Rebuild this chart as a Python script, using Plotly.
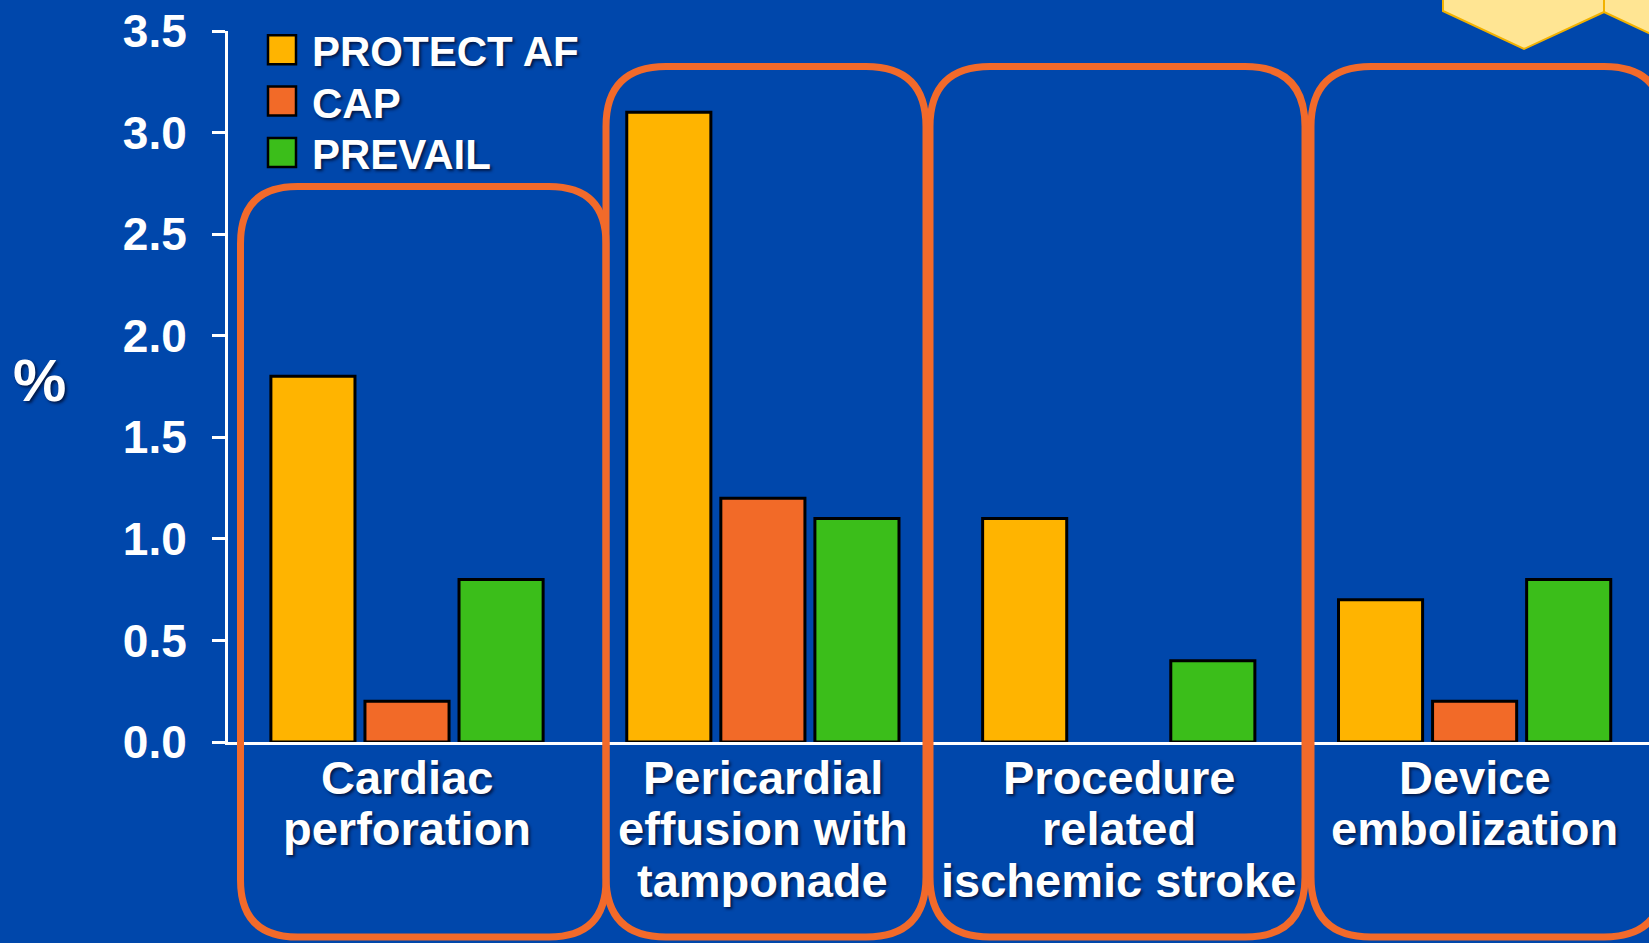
import plotly.graph_objects as go

# ---- data ----
categories = [
    "Cardiac perforation",
    "Pericardial effusion with tamponade",
    "Procedure related ischemic stroke",
    "Device embolization",
]
category_lines = [
    ["Cardiac", "perforation"],
    ["Pericardial", "effusion with", "tamponade"],
    ["Procedure", "related", "ischemic stroke"],
    ["Device", "embolization"],
]
series_names = ["PROTECT AF", "CAP", "PREVAIL"]
protect_af = [1.8, 3.1, 1.1, 0.7]
cap = [0.2, 1.2, None, 0.2]
prevail = [0.8, 1.1, 0.4, 0.8]
y_tick_values = [0.0, 0.5, 1.0, 1.5, 2.0, 2.5, 3.0, 3.5]
y_tick_labels = ["0.0", "0.5", "1.0", "1.5", "2.0", "2.5", "3.0", "3.5"]

# ---- style ----
BG = "#0047AB"
series_colors = ["#FFB400", "#F26A28", "#3BBE1A"]
BOX_COLOR = "#F26A2A"
FONT = "Liberation Sans, Arial, sans-serif"
SHADOW = "2px 2px 3px rgba(0,10,40,0.75)"

W, H = 1649, 943
ML, MR, MT, MB = 228, 0, 31, 201
PW, PH = W - ML - MR, H - MT - MB


def px(x):
    """pixel x -> paper x"""
    return (x - ML) / PW


def py(y):
    """pixel y (from top) -> paper y"""
    return (H - MB - y) / PH


fig = go.Figure()
for name, vals, color in zip(series_names, [protect_af, cap, prevail], series_colors):
    fig.add_trace(go.Bar(
        name=name, x=categories, y=vals,
        marker=dict(color=color, line=dict(color="black", width=3)),
        showlegend=False,
    ))

shapes = []
annotations = []

# legend: large squares with labels
for i, (name, color) in enumerate(zip(series_names, series_colors)):
    cy = 49.7 + 51.4 * i
    shapes.append(dict(
        type="rect", xref="paper", yref="paper",
        x0=px(268), x1=px(296), y0=py(cy + 14.5), y1=py(cy - 14.5),
        fillcolor=color, line=dict(color="black", width=2.5), layer="above",
    ))
    annotations.append(dict(
        text=name, xref="paper", yref="paper", x=px(310), y=py(cy + 2),
        xanchor="left", yanchor="middle", showarrow=False,
        font=dict(family=FONT, size=42, color="white", weight="bold", shadow=SHADOW),
    ))

# category labels below the axis, one annotation per line
LINE_GAP = 51.5
for cat, lines in zip(categories, category_lines):
    for j, line in enumerate(lines):
        annotations.append(dict(
            text=line, xref="x", yref="paper", x=cat, y=py(777 + LINE_GAP * j),
            xanchor="center", yanchor="middle", showarrow=False,
            font=dict(family=FONT, size=47, color="white", weight="bold", shadow=SHADOW),
        ))

# axis unit
annotations.append(dict(
    text="%", xref="paper", yref="paper", x=px(40), y=py(380),
    xanchor="center", yanchor="middle", showarrow=False,
    font=dict(family=FONT, size=60, color="white", weight="bold", shadow=SHADOW),
))


def rounded_rect(x0, y0, x1, y1, r):
    """Closed rounded-rectangle path in paper units from pixel corners."""
    pts = [
        ("M", (x0 + r, y0)),
        ("L", (x1 - r, y0)), ("Q", (x1, y0), (x1, y0 + r)),
        ("L", (x1, y1 - r)), ("Q", (x1, y1), (x1 - r, y1)),
        ("L", (x0 + r, y1)), ("Q", (x0, y1), (x0, y1 - r)),
        ("L", (x0, y0 + r)), ("Q", (x0, y0), (x0 + r, y0)),
    ]
    parts = []
    for p in pts:
        cmd = p[0]
        coords = " ".join(f"{px(a):.5f},{py(b):.5f}" for a, b in p[1:])
        parts.append(f"{cmd}{coords}")
    return " ".join(parts) + " Z"


group_boxes = [
    (240.5, 186.5, 606, 937, 57),
    (606, 66.5, 926, 937, 60),
    (930, 66.5, 1305, 937, 60),
    (1311, 66.5, 1664, 937, 60),
]
for x0, y0, x1, y1, r in group_boxes:
    shapes.append(dict(
        type="path", xref="paper", yref="paper", path=rounded_rect(x0, y0, x1, y1, r),
        line=dict(color=BOX_COLOR, width=7), fillcolor="rgba(0,0,0,0)", layer="above",
    ))


def poly(points):
    return "M" + " L".join(f"{px(a):.5f},{py(b):.5f}" for a, b in points) + " Z"


# decorative hexagons at the top-right corner
for pts in [
    [(1443, -10), (1443, 11), (1524, 49), (1604, 12), (1604, -10)],
    [(1604, -10), (1604, 12), (1685, 50), (1765, 12), (1765, -10)],
]:
    shapes.append(dict(
        type="path", xref="paper", yref="paper", path=poly(pts),
        fillcolor="#FFE593", line=dict(color="#F2B200", width=2), layer="above",
    ))

fig.update_layout(
    width=W, height=H,
    margin=dict(l=ML, r=MR, t=MT, b=MB, pad=0),
    paper_bgcolor=BG, plot_bgcolor=BG,
    barmode="group", bargap=0.207, bargroupgap=0.106,
    shapes=shapes, annotations=annotations,
    xaxis=dict(
        type="category", range=[-0.503, 3.490], showticklabels=False, ticks="",
        showgrid=False, zeroline=False, showline=True, linecolor="white", linewidth=3,
        fixedrange=True,
    ),
    yaxis=dict(
        range=[0, 3.5], tickvals=y_tick_values, ticktext=y_tick_labels,
        ticks="outside", ticklen=13, tickwidth=3, tickcolor="white",
        showline=True, linecolor="white", linewidth=3, showgrid=False, zeroline=False,
        tickfont=dict(family=FONT, size=46, color="white", weight="bold"),
        ticklabelstandoff=16, fixedrange=True,
    ),
    showlegend=False,
)

fig.write_html("out.html", config={"displayModeBar": False})
